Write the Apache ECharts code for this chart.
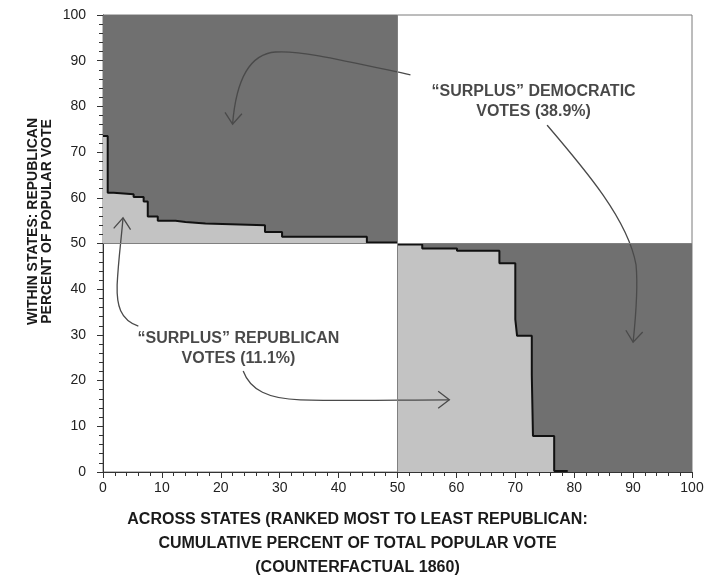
<!DOCTYPE html>
<html>
<head>
<meta charset="utf-8">
<script src="https://cdn.jsdelivr.net/npm/echarts@6/dist/echarts.min.js"></script>
<style>
  html, body { margin: 0; padding: 0; background: #fff; }
  #chart { width: 708px; height: 585px; }
</style>
</head>
<body>
<div id="chart"></div>
<script>
// step curve, states ranked most to least Republican (value holds until next x)
const leftX = [0, 0.8, 1.8, 5.2, 6.9, 7.6, 9.3, 12.3, 14.0, 17.4, 27.5, 30.4, 44.8, 50];
const leftY = [73.5, 61.1, 60.8, 60.2, 59.2, 55.9, 55.0, 54.7, 54.4, 54.0, 52.5, 51.5, 50.2, 50.2];
const rightX = [50, 54.2, 60.1, 67.3, 70.0, 70.3, 72.8, 73.0, 76.6, 78.9];
const rightY = [49.8, 48.9, 48.4, 45.7, 33.4, 29.8, 21.2, 7.9, 0.2, 0.2];

const xTicks = [0, 10, 20, 30, 40, 50, 60, 70, 80, 90, 100];
const yTicks = [0, 10, 20, 30, 40, 50, 60, 70, 80, 90, 100];

// annotation labels [x, y, text]
const notes = [
    [73.1, 81.0, '“SURPLUS” DEMOCRATIC\nVOTES (38.9%)'],
    [23.0, 26.9, '“SURPLUS” REPUBLICAN\nVOTES (11.1%)']
];

// arrows: start point then cubic segments (cp1, cp2, end), in data units
const arrows = [
    [[52.2, 86.9], [40.3, 90.2], [33.5, 92.3], [29.3, 91.9], [25.0, 91.5], [22.6, 85.8], [22.0, 76.1]],
    [[75.4, 75.9], [81.9, 66.1], [89.2, 55.1], [90.5, 45.3], [90.9, 39.8], [90.4, 33.3], [90.0, 28.4]],
    [[6.0, 31.9], [2.9, 33.3], [2.3, 36.5], [2.4, 40.9], [2.6, 46.4], [3.1, 50.8], [3.4, 55.6]],
    [[23.8, 22.1], [25.0, 17.9], [28.1, 16.0], [33.5, 15.8], [42.0, 15.5], [50.5, 15.8], [58.8, 15.8]]
];

const DARK = '#707070';
const LIGHT = '#c3c3c3';
const FONT = 'Liberation Sans, Arial, sans-serif';

function pairs(xs, ys) {
    return xs.map(function (x, i) { return [x, ys[i]]; });
}

function renderArrow(params, api) {
    const pts = arrows[params.dataIndex].map(function (p) { return api.coord(p); });
    let d = 'M' + pts[0][0] + ' ' + pts[0][1];
    for (let i = 1; i + 2 < pts.length; i += 3) {
        d += ' C' + pts[i].join(' ') + ' ' + pts[i + 1].join(' ') + ' ' + pts[i + 2].join(' ');
    }
    const tip = pts[pts.length - 1];
    const prev = pts[pts.length - 2];
    const ang = Math.atan2(tip[1] - prev[1], tip[0] - prev[0]);
    const len = 14, spread = 0.65;
    const a1 = [tip[0] - len * Math.cos(ang - spread), tip[1] - len * Math.sin(ang - spread)];
    const a2 = [tip[0] - len * Math.cos(ang + spread), tip[1] - len * Math.sin(ang + spread)];
    const style = { stroke: '#4a4a4a', lineWidth: 1.3, fill: 'none' };
    return {
        type: 'group',
        children: [
            { type: 'path', shape: { pathData: d }, style: style },
            { type: 'polyline', shape: { points: [a1, tip, a2] }, style: style }
        ]
    };
}

const chart = echarts.init(document.getElementById('chart'));
chart.setOption({
    animation: false,
    grid: { left: 103, right: 16, top: 15, bottom: 113, show: true, borderColor: '#7a7a7a', borderWidth: 1 },
    xAxis: {
        type: 'value', min: 0, max: 100, interval: 10,
        name: 'ACROSS STATES (RANKED MOST TO LEAST REPUBLICAN:\nCUMULATIVE PERCENT OF TOTAL POPULAR VOTE\n(COUNTERFACTUAL 1860)',
        nameLocation: 'middle', nameGap: 36, nameMoveOverlap: false,
        nameTextStyle: { fontFamily: FONT, fontWeight: 'bold', fontSize: 16, color: '#1a1a1a', lineHeight: 24, padding: [0, 80, 0, 0] },
        axisLine: { lineStyle: { color: '#333', width: 1 } },
        axisTick: { length: 6, lineStyle: { color: '#333' } },
        minorTick: { show: true, splitNumber: 5, length: 4, lineStyle: { color: '#333' } },
        axisLabel: { fontFamily: FONT, fontSize: 14, color: '#222', margin: 9,
            formatter: function (v) { return xTicks.indexOf(v) >= 0 ? String(v) : ''; } },
        splitLine: { show: false }
    },
    yAxis: {
        type: 'value', min: 0, max: 100, interval: 10,
        name: 'WITHIN STATES: REPUBLICAN\nPERCENT OF POPULAR VOTE',
        nameLocation: 'middle', nameGap: 49, nameMoveOverlap: false,
        nameTextStyle: { fontFamily: FONT, fontWeight: 'bold', fontSize: 14, color: '#1a1a1a', lineHeight: 14, padding: [0, 0, 0, 44] },
        axisLine: { show: true, lineStyle: { color: '#333', width: 1 } },
        axisTick: { show: true, length: 6, lineStyle: { color: '#333' } },
        minorTick: { show: true, splitNumber: 5, length: 4, lineStyle: { color: '#333' } },
        axisLabel: { fontFamily: FONT, fontSize: 14, color: '#222', margin: 17,
            formatter: function (v) { return yTicks.indexOf(v) >= 0 ? String(v) : ''; } },
        splitLine: { show: false }
    },
    series: [
        {
            type: 'line', z: 1, silent: true, showSymbol: false,
            data: [[0, 100], [50, 100]],
            lineStyle: { width: 0 },
            areaStyle: { color: DARK, opacity: 1, origin: 50 }
        },
        {
            type: 'line', z: 1, silent: true, showSymbol: false,
            data: [[50, 50], [100, 50]],
            lineStyle: { width: 0 },
            areaStyle: { color: DARK, opacity: 1, origin: 0 }
        },
        {
            type: 'line', z: 2, silent: true, showSymbol: false, data: [],
            markLine: {
                silent: true, symbol: 'none', label: { show: false },
                lineStyle: { color: '#808080', width: 1, type: 'solid' },
                data: [{ yAxis: 50 }, { xAxis: 50 }]
            }
        },
        {
            type: 'line', z: 3, silent: true, showSymbol: false, step: 'end',
            data: pairs(leftX, leftY),
            lineStyle: { color: '#111', width: 2 },
            areaStyle: { color: LIGHT, opacity: 1, origin: 50 }
        },
        {
            type: 'line', z: 3, silent: true, showSymbol: false, step: 'end',
            data: pairs(rightX, rightY),
            lineStyle: { color: '#111', width: 2 },
            areaStyle: { color: LIGHT, opacity: 1, origin: 0 }
        },
        {
            type: 'custom', z: 4, silent: true, clip: false,
            renderItem: renderArrow,
            data: arrows.map(function (a) { return a[a.length - 1]; })
        },
        {
            type: 'scatter', z: 5, silent: true, symbolSize: 0,
            data: notes.map(function (n) { return [n[0], n[1], n[2]]; }),
            label: {
                show: true, position: 'inside', align: 'center', verticalAlign: 'middle',
                fontFamily: FONT, fontWeight: 'bold', fontSize: 16, lineHeight: 20, color: '#1a1a1a',
                formatter: function (p) { return p.data[2]; }
            }
        }
    ]
});
</script>
</body>
</html>
